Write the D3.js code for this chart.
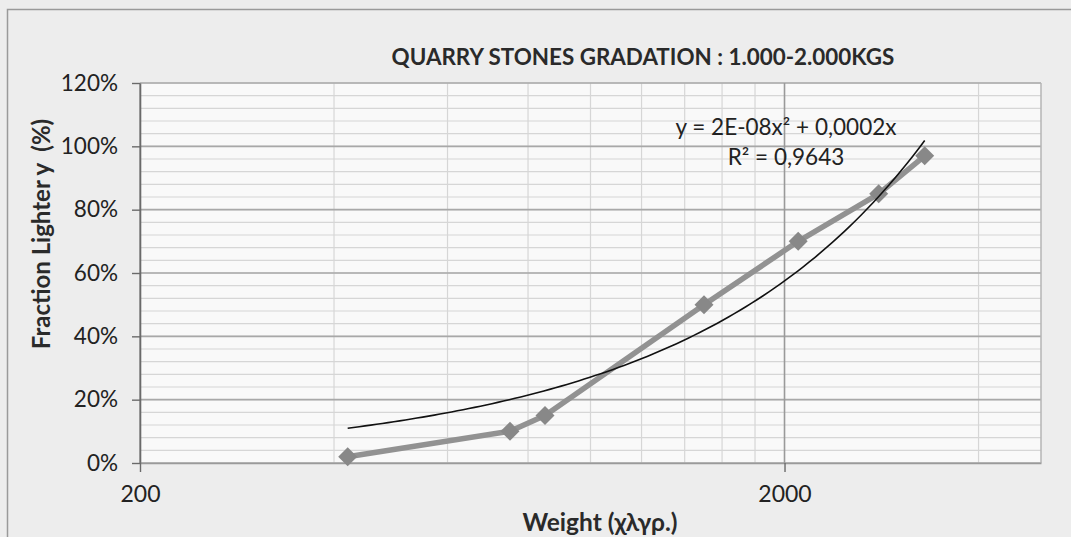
<!DOCTYPE html>
<html>
<head>
<meta charset="utf-8">
<script src="https://cdn.jsdelivr.net/npm/d3@7"></script>
<style>
  html, body { margin: 0; padding: 0; background: #ededed; }
  svg { display: block; font-family: Lato, "Open Sans", sans-serif; }
</style>
</head>
<body>
<svg id="chart" width="1071" height="537"></svg>
<script>
// ---- data ----
const weights = [420, 750, 850, 1500, 2100, 2800, 3300];      // kg
const fractions = [0.02, 0.10, 0.15, 0.50, 0.70, 0.85, 0.97];  // fraction lighter
const yTicks = [0, 0.2, 0.4, 0.6, 0.8, 1.0, 1.2];
const yMinorTicks = d3.range(0, 1.2001, 0.04);
const xTicks = [200, 2000];
const xMinorGrid = [400, 600, 800, 1000, 1200, 1400, 1600, 1800, 4000];
const xDomain = [200, 5000];
const yDomain = [0, 1.2];
const titleText = "QUARRY STONES GRADATION : 1.000-2.000KGS";
const xTitle = "Weight (χλγρ.)";
const yTitle = "Fraction Lighter y  (%)";
const trendLabels = ["y = 2E-08x² + 0,0002x", "R² = 0,9643"];

// ---- layout ----
const W = 1071, H = 537;
const plot = { left: 140, right: 1041, top: 83, bottom: 463 };

const svg = d3.select("#chart");

// chart area background + scan frame
svg.append("rect").attr("x", 0).attr("y", 0).attr("width", W).attr("height", H).attr("fill", "#ededed");
svg.append("path").attr("d", `M7.5,${H} V9.5 H${W}`).attr("fill", "none").attr("stroke", "#9a9a9a").attr("stroke-width", 1.5);

const x = d3.scaleLog().domain(xDomain).range([plot.left, plot.right]);
const y = d3.scaleLinear().domain(yDomain).range([plot.bottom, plot.top]);

// plot area
svg.append("rect")
  .attr("x", plot.left).attr("y", plot.top)
  .attr("width", plot.right - plot.left).attr("height", plot.bottom - plot.top)
  .attr("fill", "#f9f9f9");

const grid = svg.append("g");
grid.selectAll("line.hmin").data(yMinorTicks).join("line")
  .attr("x1", plot.left).attr("x2", plot.right)
  .attr("y1", d => y(d)).attr("y2", d => y(d))
  .attr("stroke", "#d6d6d6").attr("stroke-width", 1.2);
grid.selectAll("line.vmin").data(xMinorGrid).join("line")
  .attr("x1", d => x(d)).attr("x2", d => x(d))
  .attr("y1", plot.top).attr("y2", plot.bottom)
  .attr("stroke", "#d6d6d6").attr("stroke-width", 1.2);
grid.selectAll("line.hmaj").data(yTicks).join("line")
  .attr("x1", plot.left).attr("x2", plot.right)
  .attr("y1", d => y(d)).attr("y2", d => y(d))
  .attr("stroke", "#a8a8a8").attr("stroke-width", 1.6);
grid.selectAll("line.vmaj").data(xTicks).join("line")
  .attr("x1", d => x(d)).attr("x2", d => x(d))
  .attr("y1", plot.top).attr("y2", plot.bottom)
  .attr("stroke", "#9a9a9a").attr("stroke-width", 1.6);
svg.append("line").attr("x1", plot.right).attr("x2", plot.right)
  .attr("y1", plot.top).attr("y2", plot.bottom)
  .attr("stroke", "#b5b5b5").attr("stroke-width", 1.5);

// axes
const yAxis = d3.axisLeft(y).tickValues(yTicks).tickFormat(d3.format(".0%"))
  .tickSize(8).tickSizeOuter(0).tickPadding(14);
const gy = svg.append("g").attr("transform", `translate(${plot.left},0)`).call(yAxis);
gy.select(".domain").attr("stroke", "#6a6a6a").attr("stroke-width", 1.6);
gy.selectAll(".tick line").attr("stroke", "#6a6a6a").attr("stroke-width", 1.4);
gy.selectAll(".tick text").attr("font-size", 22.5).attr("fill", "#222").attr("font-family", "Lato, sans-serif");

const xAxis = d3.axisBottom(x).tickValues(xTicks).tickFormat(d3.format("d"))
  .tickSize(9).tickSizeOuter(0).tickPadding(14);
const gx = svg.append("g").attr("transform", `translate(0,${plot.bottom})`).call(xAxis);
gx.select(".domain").attr("stroke", "#9a9a9a").attr("stroke-width", 1.6);
gx.selectAll(".tick line").attr("stroke", "#6a6a6a").attr("stroke-width", 1.4);
gx.selectAll(".tick text").attr("font-size", 23).attr("fill", "#222").attr("font-family", "Lato, sans-serif");

// data series
const pts = weights.map((w, i) => [w, fractions[i]]);
svg.append("path").datum(pts)
  .attr("fill", "none").attr("stroke", "#929292").attr("stroke-width", 5.5)
  .attr("stroke-linejoin", "round")
  .attr("d", d3.line().x(d => x(d[0])).y(d => y(d[1])));
svg.append("g").selectAll("path").data(pts).join("path")
  .attr("transform", d => `translate(${x(d[0])},${y(d[1])})`)
  .attr("d", d3.symbol().type(d3.symbolDiamond2).size(230))
  .attr("fill", "#888888");

// polynomial trendline (least squares fit y = a x^2 + b x, zero intercept)
let s4 = 0, s3 = 0, s2 = 0, s2y = 0, s1y = 0;
pts.forEach(([xv, yv]) => {
  const k = xv / 1000;
  s4 += k ** 4; s3 += k ** 3; s2 += k ** 2; s2y += k * k * yv; s1y += k * yv;
});
const det = s4 * s2 - s3 * s3;
const a = (s2y * s2 - s3 * s1y) / det;
const b = (s4 * s1y - s3 * s2y) / det;
const trendX = d3.range(0, 101).map(i => {
  const lo = Math.log(d3.min(weights)), hi = Math.log(d3.max(weights));
  return Math.exp(lo + (hi - lo) * i / 100);
});
svg.append("path").datum(trendX)
  .attr("fill", "none").attr("stroke", "#111").attr("stroke-width", 1.6)
  .attr("d", d3.line().x(d => x(d)).y(d => { const k = d / 1000; return y(a * k * k + b * k); }));

// trendline labels
svg.append("g").selectAll("text").data(trendLabels).join("text")
  .attr("x", 786).attr("y", (d, i) => 135 + i * 30)
  .attr("text-anchor", "middle").attr("font-size", 22.5).attr("fill", "#222")
  .text(d => d);

// titles
svg.append("text").attr("x", 643).attr("y", 65)
  .attr("text-anchor", "middle").attr("font-size", 22.4).attr("font-weight", "bold").attr("fill", "#2a2a2a")
  .text(titleText);
svg.append("text").attr("x", 600).attr("y", 531)
  .attr("text-anchor", "middle").attr("font-size", 24.5).attr("font-weight", "bold").attr("fill", "#2a2a2a")
  .text(xTitle);
svg.append("text").attr("transform", "translate(50,234) rotate(-90)")
  .attr("text-anchor", "middle").attr("font-size", 24).attr("font-weight", "bold").attr("fill", "#2a2a2a")
  .style("white-space", "pre")
  .text(yTitle);
</script>
</body>
</html>
